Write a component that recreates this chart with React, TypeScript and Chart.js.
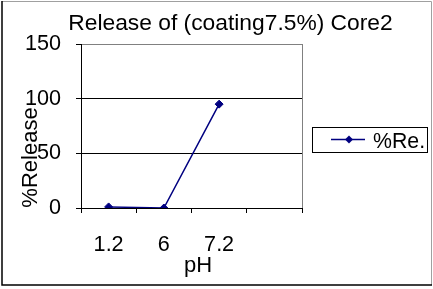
import React, { useEffect, useRef } from "react";
import { Chart, registerables } from "chart.js";

Chart.register(...registerables);

const titleText = "Release of (coating7.5%) Core2";
const xTitle = "pH";
const yTitle = "%Release";
const seriesLabel = "%Re.";
const categories = ["1.2", "6", "7.2", ""];
const releaseValues: (number | null)[] = [1, 0, 95, null];
const yMin = 0;
const yMax = 150;
const yStep = 50;

const FONT = 'Arial, "Liberation Sans", sans-serif';
const NAVY = "#000080";

const decor = {
  id: "decor",
  afterDraw(chart: any) {
    const ctx = chart.ctx as CanvasRenderingContext2D;
    const a = chart.chartArea;
    ctx.save();
    // plot area right border
    ctx.strokeStyle = "#808080";
    ctx.lineWidth = 1;
    ctx.beginPath();
    ctx.moveTo(Math.round(a.right) + 0.5, a.top);
    ctx.lineTo(Math.round(a.right) + 0.5, a.bottom);
    ctx.stroke();

    // outer border
    ctx.strokeStyle = "#a0a0a0";
    ctx.beginPath();
    ctx.moveTo(2, 1.5);
    ctx.lineTo(431.5, 1.5);
    ctx.lineTo(431.5, 285);
    ctx.stroke();
    ctx.strokeStyle = "#000";
    ctx.lineWidth = 1.5;
    ctx.beginPath();
    ctx.moveTo(2, 1);
    ctx.lineTo(2, 285);
    ctx.lineTo(432, 285);
    ctx.stroke();

    ctx.fillStyle = "#000";
    // title
    ctx.font = `22.8px ${FONT}`;
    ctx.textAlign = "center";
    ctx.textBaseline = "alphabetic";
    ctx.fillText(titleText, 230.5, 30);

    // x title
    ctx.font = `22px ${FONT}`;
    ctx.fillText(xTitle, 198, 272);

    // y title
    ctx.save();
    ctx.translate(37, 157.5);
    ctx.rotate(-Math.PI / 2);
    ctx.textAlign = "center";
    ctx.fillText(yTitle, 0, 0);
    ctx.restore();

    // legend
    ctx.lineWidth = 1;
    ctx.strokeStyle = "#000";
    ctx.fillStyle = "#fff";
    ctx.fillRect(312.5, 127.5, 115, 25);
    ctx.strokeRect(312.5, 127.5, 115, 25);
    ctx.strokeStyle = NAVY;
    ctx.lineWidth = 1.5;
    ctx.beginPath();
    ctx.moveTo(331, 139.5);
    ctx.lineTo(365, 139.5);
    ctx.stroke();
    ctx.fillStyle = NAVY;
    ctx.beginPath();
    ctx.moveTo(349, 135.5);
    ctx.lineTo(353, 139.5);
    ctx.lineTo(349, 143.5);
    ctx.lineTo(345, 139.5);
    ctx.closePath();
    ctx.fill();
    ctx.fillStyle = "#000";
    ctx.font = `21.3px ${FONT}`;
    ctx.textAlign = "left";
    ctx.fillText(seriesLabel, 373, 147.5);
    ctx.restore();
  },
};

export default function App() {
  const ref = useRef<HTMLCanvasElement | null>(null);
  useEffect(() => {
    if (!ref.current) return;
    const chart = new Chart(ref.current, {
      type: "line",
      data: {
        labels: categories,
        datasets: [
          {
            label: seriesLabel,
            data: releaseValues,
            borderColor: NAVY,
            backgroundColor: NAVY,
            borderWidth: 1.5,
            pointStyle: "rectRot",
            pointRadius: 4,
            pointBorderWidth: 1,
            tension: 0,
          },
        ],
      },
      options: {
        responsive: false,
        animation: false,
        devicePixelRatio: 1,
        layout: { padding: { left: 0, top: 44, right: 131, bottom: 0 } },
        plugins: {
          legend: { display: false },
          title: { display: false },
          tooltip: { enabled: false },
        },
        scales: {
          x: {
            type: "category",
            offset: true,
            afterFit: (s: any) => {
              s.height = 81;
            },
            grid: {
              offset: true,
              drawOnChartArea: false,
              tickLength: 5,
              color: "#000",
              tickColor: "#000",
            },
            border: { color: "#000", width: 1 },
            ticks: {
              color: "#000",
              font: { family: FONT, size: 21.6 },
              padding: 19,
              maxRotation: 0,
              autoSkip: false,
            },
          },
          y: {
            min: yMin,
            max: yMax,
            afterFit: (s: any) => {
              s.width = 81;
            },
            grid: {
              tickLength: 5,
              color: (c: any) => (c.tick && c.tick.value === yMax ? "#808080" : "#000"),
              tickColor: "#000",
            },
            border: { color: "#000", width: 1 },
            ticks: {
              stepSize: yStep,
              color: "#000",
              font: { family: FONT, size: 21.6 },
              padding: 15,
            },
          },
        },
      },
      plugins: [decor],
    });
    return () => chart.destroy();
  }, []);
  return (
    <div style={{ position: "absolute", left: 0, top: 0, width: 433, height: 289, background: "#fff" }}>
      <canvas ref={ref} width={433} height={289} style={{ display: "block" }} />
    </div>
  );
}
